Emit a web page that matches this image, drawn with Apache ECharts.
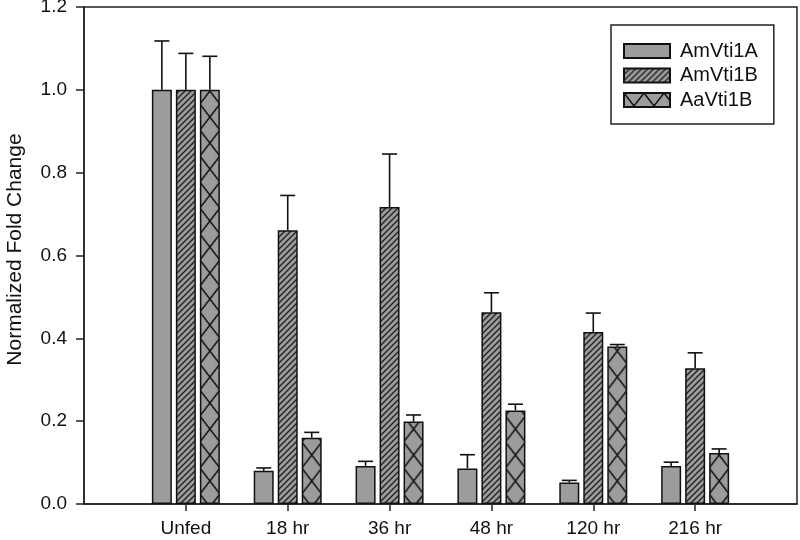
<!DOCTYPE html>
<html>
<head>
<meta charset="utf-8">
<script src="https://cdn.jsdelivr.net/npm/echarts@6/dist/echarts.min.js"></script>
<style>
  html, body { margin: 0; padding: 0; background: #fff; }
  #chart { width: 800px; height: 540px; }
</style>
</head>
<body>
<div id="chart"></div>
<script>
// categories (x axis)
var categories = ["Unfed", "18 hr", "36 hr", "48 hr", "120 hr", "216 hr"];
// mean values
var amVti1A = [1.0, 0.080, 0.092, 0.086, 0.052, 0.092];
var amVti1B = [1.0, 0.661, 0.717, 0.463, 0.415, 0.328];
var aaVti1B = [1.0, 0.160, 0.199, 0.226, 0.380, 0.123];
// upper error (SE)
var amVti1AErr = [0.118, 0.007, 0.011, 0.033, 0.005, 0.009];
var amVti1BErr = [0.088, 0.084, 0.128, 0.047, 0.046, 0.037];
var aaVti1BErr = [0.081, 0.013, 0.016, 0.015, 0.005, 0.010];
var yTicks = [0, 0.2, 0.4, 0.6, 0.8, 1.0, 1.2];

var FILL = "#9c9c9c";
var LINE = "#111";

// diagonal hatch pattern
function hatch() {
  var c = document.createElement("canvas");
  c.width = 6; c.height = 6;
  var g = c.getContext("2d");
  g.fillStyle = FILL; g.fillRect(0, 0, 6, 6);
  g.strokeStyle = "#222"; g.lineWidth = 1.4;
  g.beginPath();
  g.moveTo(-1, 7); g.lineTo(7, -1);
  g.moveTo(-1, 1); g.lineTo(1, -1);
  g.moveTo(5, 7); g.lineTo(7, 5);
  g.stroke();
  return c;
}
// crossed pattern
function cross() {
  var c = document.createElement("canvas");
  c.width = 20; c.height = 26;
  var g = c.getContext("2d");
  g.fillStyle = FILL; g.fillRect(0, 0, 20, 26);
  g.strokeStyle = "#111"; g.lineWidth = 1.5;
  g.beginPath();
  g.moveTo(0, 0); g.lineTo(20, 26);
  g.moveTo(20, 0); g.lineTo(0, 26);
  g.stroke();
  return c;
}
var crossImg = cross();

// pad: empty slot at each end so groups sit one step in from the frame
var xData = [""].concat(categories, [""]);
function pad(arr) { return ["-"].concat(arr, ["-"]); }

var BAR_W = 20, GAP = 4;

function errData(vals, errs) {
  return vals.map(function (v, i) { return [i + 1, v, errs[i]]; });
}
function errSeries(name, vals, errs, k) {
  return {
    name: name + " err",
    type: "custom",
    z: 5,
    data: errData(vals, errs),
    encode: { x: 0, y: 1 },
    renderItem: function (params, api) {
      var base = api.coord([api.value(0), api.value(1)]);
      var top = api.coord([api.value(0), api.value(1) + api.value(2)]);
      var x = base[0] + (k - 1) * (BAR_W + GAP);
      var st = { stroke: LINE, lineWidth: 1.6 };
      return {
        type: "group",
        children: [
          { type: "line", shape: { x1: x, y1: base[1], x2: x, y2: top[1] }, style: st },
          { type: "line", shape: { x1: x - 7.5, y1: top[1], x2: x + 7.5, y2: top[1] }, style: st }
        ]
      };
    }
  };
}

var chart = echarts.init(document.getElementById("chart"));
var border = { borderColor: LINE, borderWidth: 1.5 };

chart.setOption({
  animation: false,
  textStyle: { fontFamily: "Liberation Sans, Arial, sans-serif", color: "#111" },
  grid: { left: 84, right: 3, top: 7, bottom: 36, show: true, borderColor: "#222", borderWidth: 1.5,
    outerBoundsMode: "none" },
  legend: {
    data: ["AmVti1A", "AmVti1B", "AaVti1B"],
    orient: "vertical",
    left: 611, top: 25,
    icon: "rect",
    itemWidth: 46, itemHeight: 14, itemGap: 4.5,
    padding: [16, 16, 14, 12],
    borderColor: "#222", borderWidth: 1.5,
    textStyle: { fontSize: 20, color: "#111", padding: [0, 0, 0, 5] }
  },
  xAxis: {
    type: "category",
    data: xData,
    boundaryGap: false,
    axisLine: { lineStyle: { color: "#222", width: 1.5 } },
    axisTick: {
      length: 7, lineStyle: { color: "#222", width: 1.5 },
      interval: function (i) { return i > 0 && i < xData.length - 1; }
    },
    axisLabel: { fontSize: 19, color: "#111", margin: 15 },
    splitLine: { show: false }
  },
  yAxis: {
    type: "value",
    min: yTicks[0], max: yTicks[yTicks.length - 1], interval: 0.2,
    name: "Normalized Fold Change",
    nameLocation: "middle",
    nameGap: 58,
    nameTextStyle: { fontSize: 21, color: "#111", padding: [0, 0, 0, 12] },
    axisLine: { show: true, lineStyle: { color: "#222", width: 1.5 } },
    axisTick: { show: true, length: 8, lineStyle: { color: "#222", width: 1.5 } },
    axisLabel: { fontSize: 19, color: "#111", margin: 17, formatter: function (v) { return v.toFixed(1); } },
    splitLine: { show: false }
  },
  series: [
    { name: "AmVti1A", type: "bar", barWidth: BAR_W, barGap: "20%", data: pad(amVti1A),
      itemStyle: Object.assign({ color: FILL }, border) },
    { name: "AmVti1B", type: "bar", barWidth: BAR_W, barGap: "20%", data: pad(amVti1B),
      itemStyle: Object.assign({ color: { image: hatch(), repeat: "repeat" } }, border) },
    { name: "AaVti1B", type: "bar", barWidth: BAR_W, barGap: "20%", data: pad(aaVti1B),
      itemStyle: Object.assign({ color: { image: crossImg, repeat: "repeat" } }, border) },
    errSeries("AmVti1A", amVti1A, amVti1AErr, 0),
    errSeries("AmVti1B", amVti1B, amVti1BErr, 1),
    errSeries("AaVti1B", aaVti1B, aaVti1BErr, 2)
  ]
});

// shift the cross pattern so each X sits centred in its bar
var crossData = pad(aaVti1B).map(function (v, i) {
  if (v === "-") return v;
  var cx = chart.convertToPixel({ xAxisIndex: 0 }, i) + (BAR_W + GAP);
  return { value: v, itemStyle: { color: { image: crossImg, repeat: "repeat", x: cx - BAR_W / 2, y: 0 } } };
});
chart.setOption({ series: [{}, {}, { data: crossData }] });
</script>
</body>
</html>
